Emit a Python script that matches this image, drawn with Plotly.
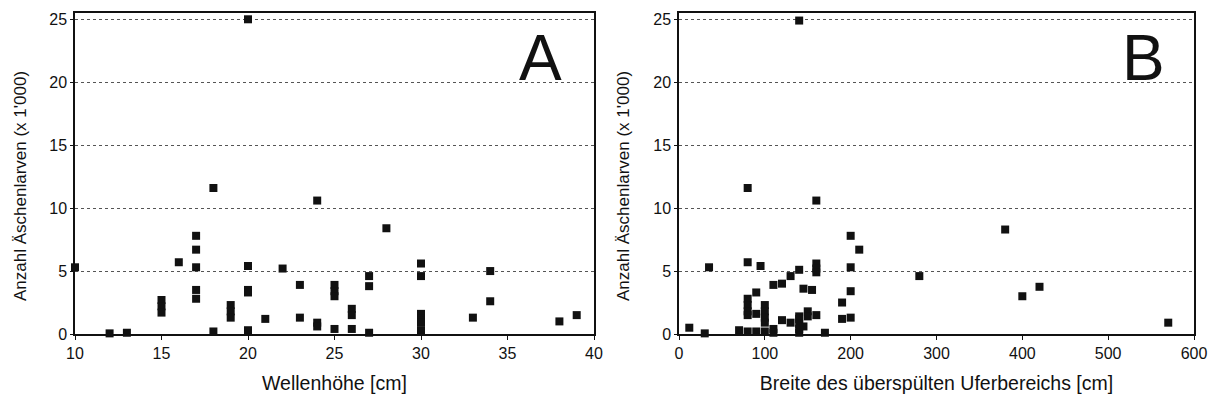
import plotly.graph_objects as go

# Panel A: Wellenhöhe [cm] vs. Anzahl Äschenlarven (x 1'000)
wave_height = [10, 12, 13, 15, 15, 15, 16, 17, 17, 17, 17, 17, 18, 18,
               19, 19, 19, 20, 20, 20, 20, 20, 20, 21, 22, 23, 23,
               24, 24, 24, 25, 25, 25, 25, 26, 26, 26, 27, 27, 27, 28,
               30, 30, 30, 30, 30, 30, 33, 34, 34, 38, 39]
larvae_a = [5.3, 0.05, 0.1, 2.7, 2.2, 1.7, 5.7, 7.8, 6.7, 5.3, 3.5, 2.8, 11.6, 0.2,
            2.3, 1.8, 1.3, 25.0, 5.4, 3.5, 3.3, 0.3, 0.2, 1.2, 5.2, 3.9, 1.3,
            10.6, 0.9, 0.6, 3.9, 3.4, 3.0, 0.4, 2.0, 1.5, 0.4, 4.6, 3.8, 0.1, 8.4,
            5.6, 4.6, 1.6, 1.2, 0.9, 0.3, 1.3, 5.0, 2.6, 1.0, 1.5]

# Panel B: Breite des überspülten Uferbereichs [cm]
shore_width = [12, 30, 35, 70, 80, 80, 80, 80, 80, 80, 80, 90, 90, 90, 95,
               100, 100, 100, 100, 100, 110, 110, 110, 120, 120, 130, 130,
               140, 140, 140, 140, 140, 140, 140, 145, 145, 150, 150, 155,
               160, 160, 160, 160, 160, 170, 190, 190, 200, 200, 200, 200,
               210, 280, 380, 400, 420, 570]
larvae_b = [0.5, 0.05, 5.3, 0.3, 11.6, 5.7, 2.8, 2.3, 1.8, 1.5, 0.2, 3.3, 1.6, 0.2, 5.4,
            2.3, 1.8, 1.3, 0.9, 0.2, 3.9, 0.4, 0.1, 4.0, 1.1, 4.6, 0.9,
            24.9, 5.1, 1.4, 1.2, 0.8, 0.4, 0.1, 3.6, 0.6, 1.8, 1.4, 3.5,
            10.6, 5.6, 5.2, 4.9, 1.5, 0.1, 2.5, 1.2, 7.8, 5.3, 3.4, 1.3,
            6.7, 4.6, 8.3, 3.0, 3.75, 0.9]

y_ticks = [0, 5, 10, 15, 20, 25]
a_ticks = [10, 15, 20, 25, 30, 35, 40]
b_ticks = [0, 100, 200, 300, 400, 500, 600]
y_title = "Anzahl Äschenlarven (x 1'000)"

W, H = 1209, 402   # page body has an 8px margin
OFF = 8
FONT = "Liberation Sans, Arial, sans-serif"


def px(x):
    return (x - OFF) / W


def py(y):
    return (H - (y - OFF)) / H


fig = go.Figure()
marker = dict(symbol="square", size=8, color="#111111")
fig.add_trace(go.Scatter(x=wave_height, y=larvae_a, mode="markers", marker=marker,
                         xaxis="x", yaxis="y", showlegend=False, cliponaxis=False))
fig.add_trace(go.Scatter(x=shore_width, y=larvae_b, mode="markers", marker=marker,
                         xaxis="x2", yaxis="y2", showlegend=False, cliponaxis=False))

ydom = [py(334), py(13)]
xa_dom = [px(75), px(594)]
xb_dom = [px(679), px(1194)]

common_x = dict(showline=True, linecolor="#111", linewidth=1.5, mirror=True,
                ticks="outside", ticklen=4, tickcolor="#111", showgrid=False,
                zeroline=False, automargin=False,
                tickfont=dict(family=FONT, size=16, color="#111"),
                title_font=dict(family=FONT, size=19.5, color="#111"), title_standoff=15)
common_y = dict(showline=True, linecolor="#111", linewidth=1.5, mirror=True,
                ticks="outside", ticklen=3, tickcolor="#111",
                showgrid=True, gridcolor="#555", gridwidth=1, griddash="dot",
                zeroline=False, automargin=False, tickvals=y_ticks, range=[0, 25.5],
                tickfont=dict(family=FONT, size=16, color="#111"))

fig.update_layout(
    width=W, height=H,
    margin=dict(l=0, r=0, t=0, b=0, autoexpand=False),
    paper_bgcolor="white", plot_bgcolor="white",
    xaxis=dict(domain=xa_dom, anchor="y", range=[10, 40], tickvals=a_ticks,
               title_text="Wellenhöhe [cm]", **common_x),
    yaxis=dict(domain=ydom, anchor="x", **common_y),
    xaxis2=dict(domain=xb_dom, anchor="y2", range=[0, 600], tickvals=b_ticks,
                title_text="Breite des überspülten Uferbereichs [cm]", **common_x),
    yaxis2=dict(domain=ydom, anchor="x2", **common_y),
    annotations=[
        dict(text=y_title, x=px(20), y=py(186), xref="paper", yref="paper",
             xanchor="center", yanchor="middle", textangle=-90,
             showarrow=False, font=dict(family=FONT, size=17, color="#111")),
        dict(text=y_title, x=px(623), y=py(186), xref="paper", yref="paper",
             xanchor="center", yanchor="middle", textangle=-90,
             showarrow=False, font=dict(family=FONT, size=17, color="#111")),
        dict(text="A", x=px(540), y=py(58), xref="paper", yref="paper",
             xanchor="center", yanchor="middle",
             showarrow=False, font=dict(family=FONT, size=64, color="#111")),
        dict(text="B", x=px(1143), y=py(58), xref="paper", yref="paper",
             xanchor="center", yanchor="middle",
             showarrow=False, font=dict(family=FONT, size=64, color="#111")),
    ],
)

fig.write_html("out.html")
